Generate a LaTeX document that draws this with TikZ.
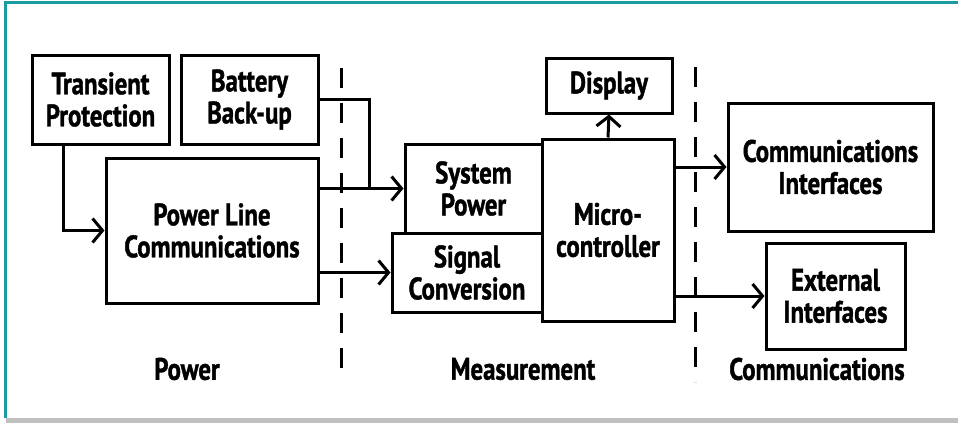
\documentclass[tikz,border=0pt]{standalone}
\usepackage{fontspec}
\setmainfont{PT Sans}[FakeStretch=0.8, BoldFeatures={FakeBold=1.2}]
\usetikzlibrary{arrows.meta}
\definecolor{frameteal}{HTML}{1A9BA1}
\definecolor{framegrey}{HTML}{C0C0C0}
\tikzset{
  blk/.style={draw=black, line width=3pt, fill=white, inner sep=0pt, align=center,
    font=\fontsize{31}{32}\selectfont\bfseries},
  lbl/.style={inner sep=0pt, font=\fontsize{31}{32}\selectfont\bfseries},
  conn/.style={line width=3pt},
  arr/.style={line width=3pt, -{Straight Barb[length=10pt,width=24pt,line width=3pt]}},
  divider/.style={line width=3pt, dash pattern=on 20pt off 15pt}
}
\begin{document}
\begin{tikzpicture}[x=1pt,y=-1pt]
\useasboundingbox (0,0) rectangle (958,423);
% frame
\fill[frameteal] (4,1) rectangle (958,4);
\fill[frameteal] (4,1) rectangle (7,418);
\fill[framegrey] (6,418) rectangle (958,423);
% dividers
\coordinate (d1t) at (341,68); \coordinate (d1b) at (341,382);
\coordinate (d2t) at (695,67); \coordinate (d2b) at (695,382);
\draw[divider] (d1t) -- (d1b);
\draw[divider] (d2t) -- (d2b);
% boxes
\node[blk, minimum width=137pt, minimum height=89pt] (trans) at (100.5,99.5) {Transient\\Protection};
\node[blk, minimum width=137pt, minimum height=89pt] (batt) at (249.5,99.5) {Battery\\Back-up};
\node[blk, minimum width=212pt, minimum height=145pt] (plc) at (212,230.5) {Power Line\\Communications};
\node[blk, minimum width=137pt, minimum height=89pt] (syspow) at (473.5,188.5) {System\\Power};
\node[blk, minimum width=150pt, minimum height=79pt] (sigconv) at (467,272.5) {Signal\\Conversion};
\node[blk, minimum width=132pt, minimum height=182pt] (micro) at (608,230) {Micro-\\controller};
\node[blk, minimum width=126pt, minimum height=55pt] (display) at (609,85.5) {Display};
\node[blk, minimum width=205pt, minimum height=128pt] (comm) at (830.5,167) {Communications\\Interfaces};
\node[blk, minimum width=139pt, minimum height=106pt] (ext) at (835.5,296) {External\\Interfaces};
% labels
\node[lbl] (lpow) at (187,369) {Power};
\node[lbl] (lmeas) at (523,369) {Measurement};
\node[lbl] (lcomm) at (817,369) {Communications};
% connectors
\draw[arr] ([xshift=33pt]trans.south west) |- (plc.west);
\coordinate (j) at (369,188.5);
\draw[conn] (batt.east) -| (j);
\draw[arr] (plc.east |- syspow.west) -- (syspow.west);
\draw[arr] (plc.east |- sigconv.west) -- (sigconv.west);
\draw[arr] (micro.north) -- (display.south);
\draw[arr] (micro.east |- comm.west) -- (comm.west);
\draw[arr] (micro.east |- ext.west) -- (ext.west);
\end{tikzpicture}
\end{document}
